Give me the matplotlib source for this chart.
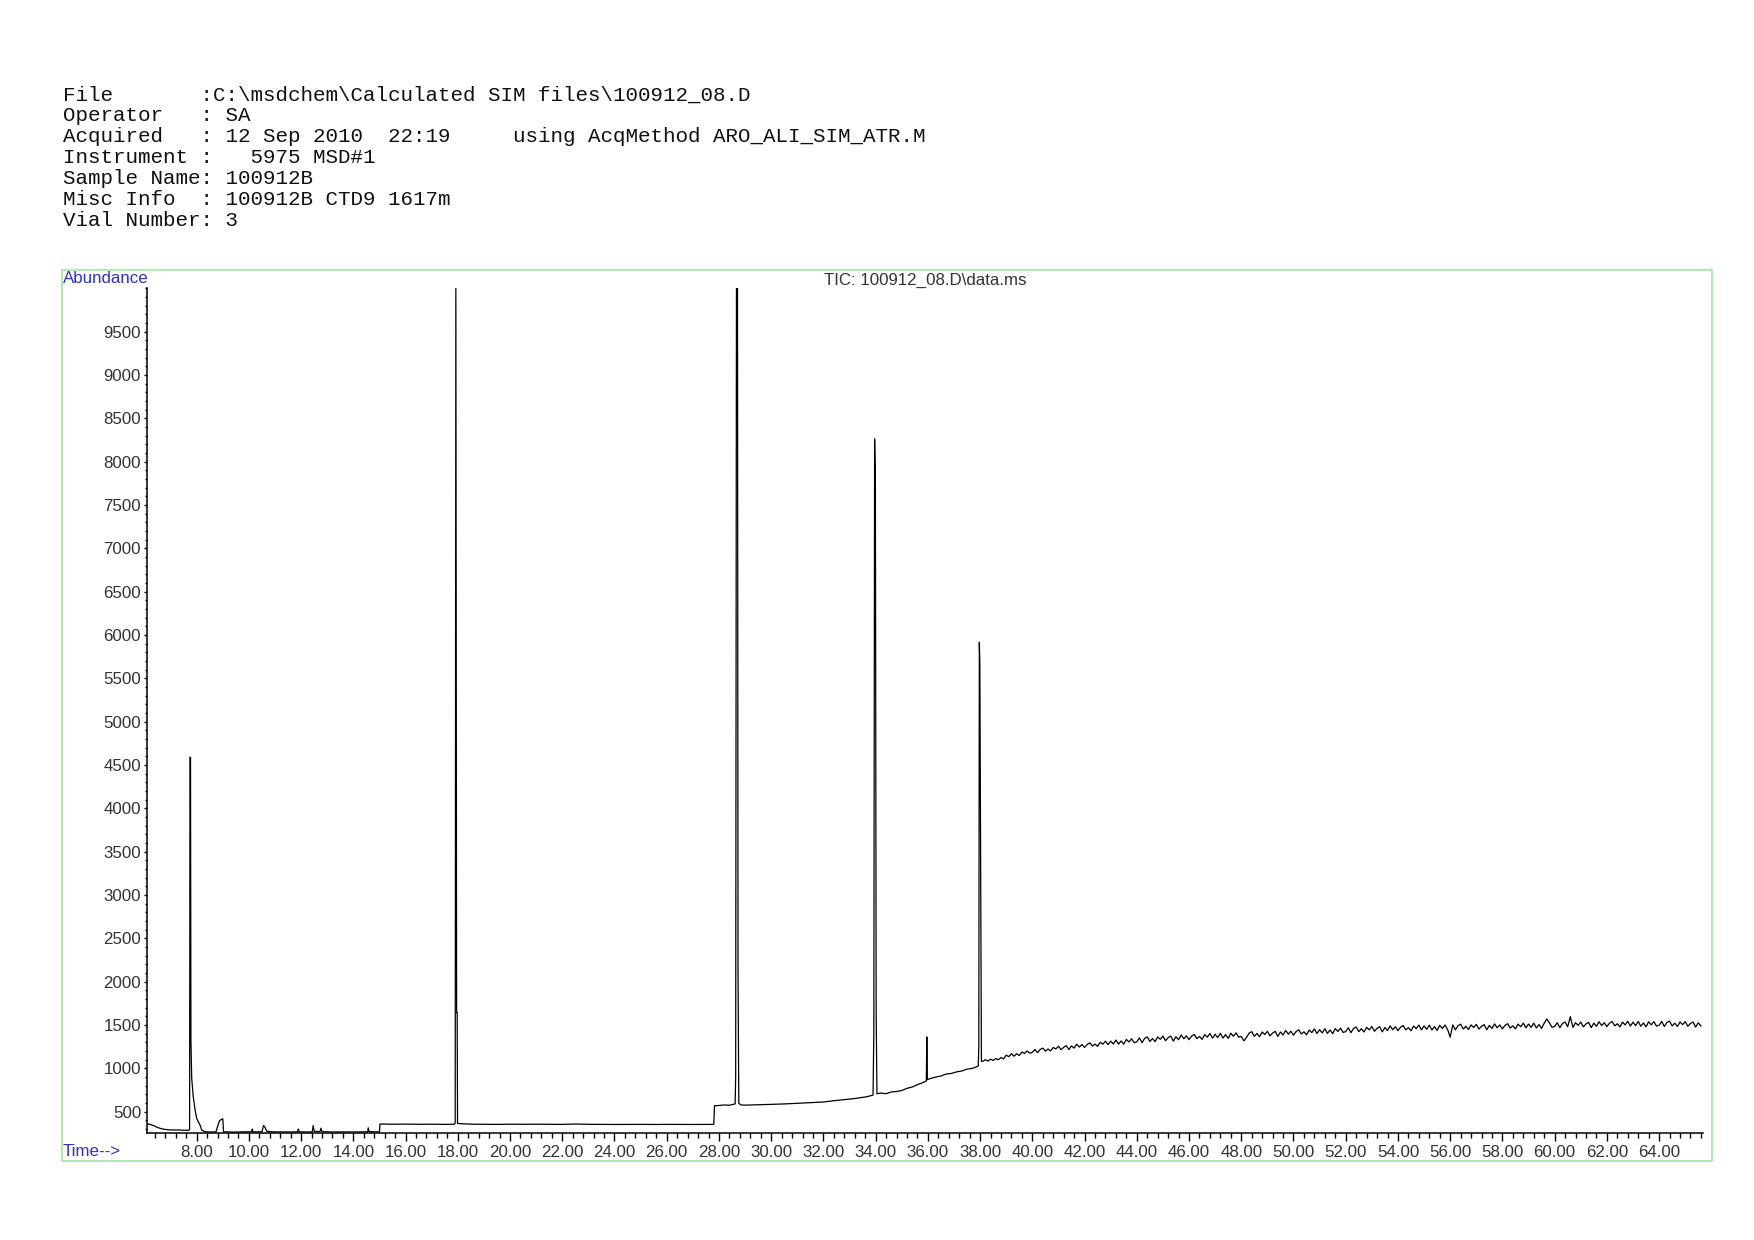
import numpy as np
import matplotlib
matplotlib.use("Agg")
import matplotlib.pyplot as plt
from matplotlib.ticker import MultipleLocator, FormatStrFormatter
from matplotlib.patches import Rectangle

# header block, as printed by the instrument software
header_lines = [
    r"File       :C:\msdchem\Calculated SIM files\100912_08.D",
    r"Operator   : SA",
    r"Acquired   : 12 Sep 2010  22:19     using AcqMethod ARO_ALI_SIM_ATR.M",
    r"Instrument :   5975 MSD#1",
    r"Sample Name: 100912B",
    r"Misc Info  : 100912B CTD9 1617m",
    r"Vial Number: 3",
]
plot_title = r"TIC: 100912_08.D\data.ms"

# segment 1: start of run to the first step (min, abundance)
time_seg1 = [6.11, 6.2, 6.35, 6.5, 6.7, 6.9, 7.1, 7.3, 7.5, 7.71,
             7.73, 7.745, 7.765, 7.78, 7.81, 7.87, 7.94, 8.0, 8.07, 8.13,
             8.19, 8.3, 8.5, 8.74, 8.8, 8.88, 8.95, 9.0, 9.03, 9.2,
             9.5, 9.8, 10.1, 10.13, 10.16, 10.5, 10.56, 10.62, 10.68, 10.9,
             11.3, 11.6, 11.86, 11.89, 11.93, 12.2, 12.43, 12.46, 12.5, 12.72,
             12.76, 12.8, 13.2, 13.6, 14.0, 14.4, 14.55, 14.57, 14.6, 14.8,
             15.0]
abund_seg1 = [360, 355, 340, 318, 300, 292, 289, 290, 286, 287,
              300, 4590, 4590, 1330, 886, 673, 520, 424, 380, 346,
              290, 270, 266, 268, 330, 400, 410, 420, 268, 267,
              265, 268, 268, 300, 268, 268, 340, 318, 275, 268,
              267, 266, 268, 300, 268, 266, 268, 340, 275, 270,
              310, 270, 266, 267, 266, 267, 268, 315, 272, 268,
              268]

# segment 2: 15.0 - 27.8 min
time_seg2 = [15.02, 15.5, 16.0, 16.5, 17.0, 17.5, 17.87, 17.9, 17.925, 17.955,
             17.975, 17.99, 18.2, 18.6, 19.0, 19.5, 20.0, 20.5, 21.0, 21.5,
             22.0, 22.5, 23.0, 23.5, 24.0, 24.5, 25.0, 25.5, 26.0, 26.5,
             27.0, 27.5, 27.8]
abund_seg2 = [358, 356, 357, 355, 356, 354, 356, 370, 10000, 1645,
              1645, 365, 360, 356, 355, 354, 356, 355, 356, 355,
              354, 358, 355, 354, 353, 354, 354, 353, 354, 353,
              353, 354, 354]

# segment 3: 27.8 - 38.05 min
time_seg3 = [27.83, 28.0, 28.2, 28.4, 28.55, 28.62, 28.64, 28.67, 28.71, 28.73,
             28.76, 28.85, 29.0, 29.5, 30.0, 30.5, 31.0, 31.5, 32.0, 32.4,
             32.8, 33.2, 33.66, 33.9, 33.93, 33.96, 33.99, 34.02, 34.05, 34.2,
             34.4, 34.6, 34.8, 35.0, 35.2, 35.4, 35.6, 35.8, 35.94, 35.96,
             35.98, 36.1, 36.3, 36.5, 36.7, 36.9, 37.1, 37.3, 37.5, 37.7,
             37.88, 37.93, 37.95, 37.97, 37.99, 38.02, 38.05]
abund_seg3 = [569, 572, 578, 575, 585, 590, 912, 10000, 10000, 2098,
              597, 578, 576, 580, 585, 590, 597, 605, 612, 627,
              640, 652, 673, 692, 1405, 8264, 7799, 1617, 707, 716,
              708, 728, 733, 745, 770, 785, 812, 835, 855, 1363,
              870, 884, 900, 912, 935, 942, 960, 970, 992, 1000,
              1020, 1030, 1259, 5918, 5680, 3375, 1080]

# segment 4: noisy baseline, one reading every 0.1 min from 38.1 min
late_start = 38.1
late_step = 0.1
abund_late = [
    1082, 1100, 1084, 1106, 1092, 1114, 1100, 1125, 1110,
    1153, 1135, 1169, 1141, 1169, 1149, 1189, 1173, 1201, 1176,
    1185, 1219, 1181, 1219, 1234, 1199, 1224, 1201, 1242, 1224,
    1256, 1216, 1244, 1262, 1217, 1260, 1234, 1279, 1246, 1275,
    1241, 1276, 1295, 1258, 1280, 1255, 1301, 1279, 1315, 1274,
    1315, 1282, 1327, 1280, 1317, 1280, 1334, 1305, 1342, 1297,
    1307, 1352, 1296, 1346, 1364, 1311, 1345, 1309, 1363, 1335,
    1373, 1320, 1354, 1373, 1315, 1366, 1331, 1385, 1342, 1376,
    1331, 1373, 1392, 1344, 1369, 1335, 1390, 1360, 1403, 1349,
    1394, 1355, 1405, 1350, 1389, 1346, 1406, 1371, 1410, 1360,
    1370, 1318, 1358, 1407, 1424, 1370, 1403, 1366, 1420, 1391,
    1428, 1375, 1408, 1428, 1369, 1420, 1385, 1438, 1395, 1429,
    1384, 1426, 1445, 1397, 1422, 1388, 1443, 1413, 1456, 1402,
    1447, 1409, 1458, 1404, 1443, 1401, 1460, 1426, 1465, 1415,
    1425, 1469, 1412, 1462, 1479, 1424, 1457, 1420, 1474, 1445,
    1482, 1429, 1462, 1481, 1422, 1472, 1437, 1490, 1447, 1480,
    1435, 1476, 1494, 1445, 1470, 1434, 1489, 1458, 1500, 1445,
    1490, 1451, 1499, 1443, 1482, 1438, 1497, 1461, 1500, 1449,
    1360, 1502, 1445, 1493, 1510, 1454, 1486, 1449, 1502, 1472,
    1508, 1454, 1486, 1505, 1446, 1496, 1460, 1513, 1469, 1502,
    1456, 1497, 1516, 1466, 1491, 1456, 1511, 1480, 1523, 1468,
    1512, 1473, 1522, 1467, 1506, 1462, 1521, 1570, 1525, 1474,
    1484, 1527, 1470, 1518, 1535, 1480, 1597, 1473, 1527, 1497,
    1534, 1480, 1513, 1531, 1471, 1522, 1486, 1538, 1494, 1527,
    1482, 1522, 1541, 1491, 1515, 1479, 1534, 1502, 1544, 1488,
    1533, 1493, 1542, 1486, 1524, 1480, 1538, 1502, 1540, 1488,
    1498, 1541, 1483, 1531, 1546, 1490, 1522, 1484, 1535, 1505,
    1540, 1486, 1518, 1536, 1476, 1526, 1490,
]
time_late = np.round(late_start + late_step * np.arange(len(abund_late)), 2)

y_ticks = np.arange(500, 10000, 500)

time = np.concatenate([time_seg1, time_seg2, time_seg3, time_late])
abund = np.concatenate([abund_seg1, abund_seg2, abund_seg3, abund_late])

W, H = 1754, 1240
fig = plt.figure(figsize=(W / 100, H / 100), dpi=100)

# header text
for i, line in enumerate(header_lines):
    y = 100.5 + i * 20.9
    fig.text(62.6 / W, 1 - y / H, line, family="Liberation Mono",
             fontsize=15, va="baseline", ha="left", color="#111111")

# green frame round the plot
fig.add_artist(Rectangle((62 / W, 1 - 1161 / H), (1712 - 62) / W, (1161 - 270) / H,
                         transform=fig.transFigure, fill=False,
                         edgecolor="#a3e6a3", lw=1.2))

ax = fig.add_axes([147.3 / W, 1 - 1132.7 / H, (1703.5 - 147.3) / W, (1132.7 - 288) / H])
ax.patch.set_alpha(0)
ax.plot(time, abund, color="black", lw=0.9)

ax.set_xlim(6.11, 65.70)
ax.set_ylim(258, 10005)

for s in ["top", "right"]:
    ax.spines[s].set_visible(False)
ax.spines["left"].set_linewidth(1.1)
ax.spines["bottom"].set_linewidth(1.1)

ax.xaxis.set_major_locator(MultipleLocator(2))
ax.xaxis.set_minor_locator(MultipleLocator(0.4))
ax.xaxis.set_major_formatter(FormatStrFormatter("%.2f"))
ax.set_yticks(y_ticks)
ax.yaxis.set_minor_locator(MultipleLocator(100))

ax.tick_params(axis="x", which="major", direction="out", length=5.5, width=1,
               labelsize=12.2, labelcolor="#333333", pad=3)
ax.tick_params(axis="x", which="minor", direction="out", length=3.5, width=1)
ax.tick_params(axis="y", which="major", direction="out", length=2.5, width=1,
               labelsize=12.2, labelcolor="#333333", pad=2)
ax.tick_params(axis="y", which="minor", direction="out", length=1.2, width=1)
for lab in ax.get_xticklabels() + ax.get_yticklabels():
    lab.set_family("Liberation Sans")

fig.text(62.6 / W, 1 - 278.5 / H, "Abundance", family="Liberation Sans",
         fontsize=12.2, color="#2f2fd0", va="center", ha="left")
fig.text(62.6 / W, 1 - 1152 / H, "Time-->", family="Liberation Sans",
         fontsize=12.2, color="#2f2fd0", va="center", ha="left")
fig.text(925 / W, 1 - 280.7 / H, plot_title, family="Liberation Sans",
         fontsize=12.2, color="#333333", va="center", ha="center")

fig.savefig("out.png", dpi=100)
